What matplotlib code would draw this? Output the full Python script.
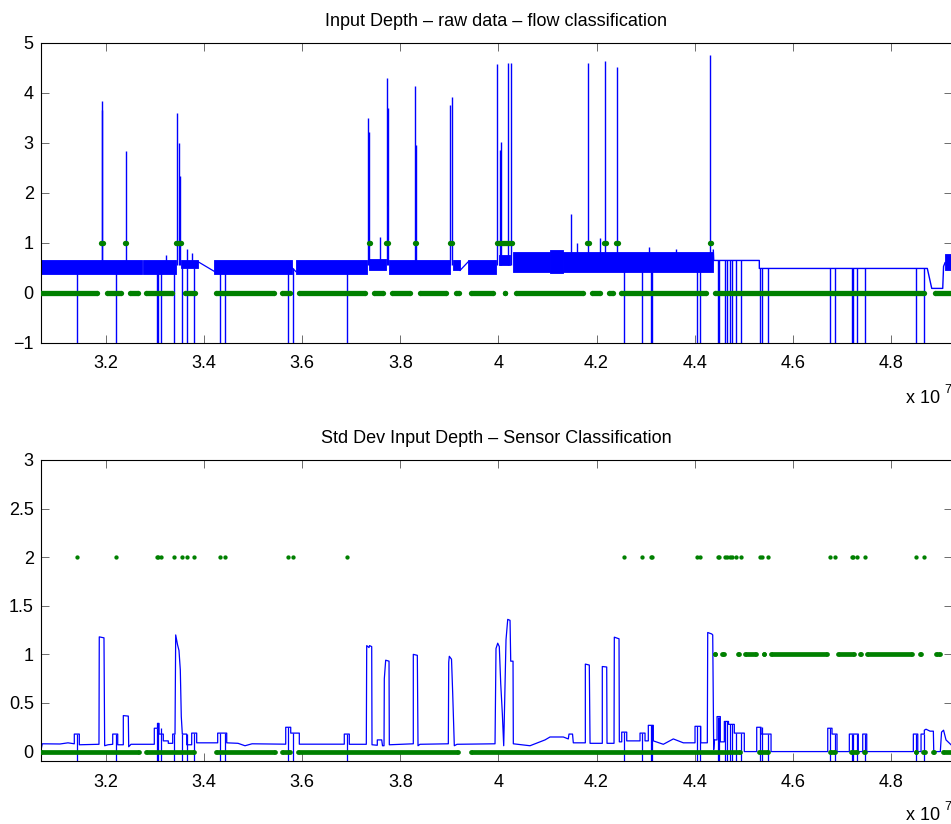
import numpy as np
import matplotlib
matplotlib.use('Agg')
import matplotlib.pyplot as plt
from matplotlib.ticker import FixedLocator, FixedFormatter

plt.rcParams['font.family'] = ['Liberation Sans', 'DejaVu Sans']
plt.rcParams['font.size'] = 13

E7 = 1e7
XMIN, XMAX = 3.0669, 4.9248
BLUE = (0, 0, 1)
GREEN = (0, 0.5, 0)
NAN = np.nan

# ---- top panel: raw input depth (x in units of 1e7) ----
band_x0 = [3.0669, 3.2754, 3.3523, 3.4202, 3.5874, 3.7362, 3.7770, 3.9068, 3.9386, 4.0018, 4.0298, 4.1052, 4.1323, 4.9105]
band_x1 = [3.2734, 3.3427, 3.3876, 3.5792, 3.7321, 3.7715, 3.9019, 3.9217, 3.9951, 4.0237, 4.1052, 4.1323, 4.4381, 4.9248]
band_lo = [0.37, 0.37, 0.50, 0.37, 0.37, 0.45, 0.37, 0.45, 0.37, 0.55, 0.42, 0.40, 0.42, 0.45]
band_hi = [0.65, 0.65, 0.66, 0.66, 0.66, 0.68, 0.66, 0.66, 0.65, 0.75, 0.82, 0.86, 0.82, 0.78]

spike_x = [3.1912, 3.1925, 3.2402, 3.3223, 3.3441, 3.3482, 3.3503, 3.3645, 3.3747,
           3.7342, 3.7362, 3.7586, 3.7723, 3.7749, 3.8306, 3.8320, 3.9019, 3.9048,
           3.9978, 4.0039, 4.0059, 4.0202, 4.0251, 4.1486, 4.1596, 4.1821, 4.2071,
           4.2173, 4.2412, 4.3076, 4.3615, 4.4320]
spike_top = [3.83, 3.65, 2.84, 0.76, 3.59, 2.99, 2.34, 0.87, 0.79,
             3.49, 3.22, 1.12, 4.29, 3.69, 4.13, 2.95, 3.75, 3.92,
             4.57, 2.85, 3.02, 4.60, 4.60, 1.58, 1.00, 4.60, 1.09,
             4.63, 4.52, 0.92, 0.88, 4.75]

link_x = [3.3876, 3.4202, NAN, 3.5792, 3.5874, NAN, 3.9217, 3.9386]
link_y = [0.62, 0.43, NAN, 0.50, 0.42, NAN, 0.445, 0.62]

tail_x = [4.4381, 4.4390, 4.5319, 4.5319, 4.8744, 4.8834, 4.9058, 4.9075, 4.9105]
tail_y = [0.85, 0.645, 0.645, 0.485, 0.485, 0.086, 0.086, 0.525, 0.60]

drop_x = [3.1403, 3.2198, 3.3040, 3.3066, 3.3121, 3.3386, 3.3556, 3.3645, 3.3800,
          3.4324, 3.4420, 3.5704, 3.5806, 3.6907, 4.2567, 4.2934, 4.3111, 4.3138,
          4.4055, 4.4110, 4.4471, 4.4504, 4.4626, 4.4661, 4.4722, 4.4756, 4.4838,
          4.4946, 4.5339, 4.5374, 4.5496, 4.6767, 4.6862, 4.7203, 4.7236, 4.7305,
          4.7468, 4.8508, 4.8671]

flow0_x0 = [3.0669, 3.2020, 3.2483, 3.2822, 3.3604, 3.4249, 3.5588, 3.5935, 3.7464, 3.7837,
            3.8408, 3.9129, 3.9448, 4.0135, 4.0353, 4.1908, 4.2255, 4.2506, 4.4416, 4.8895]
flow0_x1 = [3.1817, 3.2306, 3.2652, 3.3346, 3.3821, 3.5431, 3.5757, 3.7274, 3.7641, 3.8204,
            3.8926, 3.9191, 3.9890, 4.0135, 4.1725, 4.2078, 4.2330, 4.4226, 4.8683, 4.9248]
flow1_x0 = [3.1892, 3.2387, 3.3427, 3.7362, 3.7715, 3.8300, 3.9019, 3.9971, 4.1806, 4.2153, 4.2391, 4.4308]
flow1_x1 = [3.1939, 3.2414, 3.3523, 3.7388, 3.7749, 3.8326, 3.9060, 4.0277, 4.1840, 4.2188, 4.2432, 4.4340]

# ---- bottom panel: std dev of input depth ----
std_x = [3.0669, 3.0701, 3.1062, 3.1225, 3.1354, 3.1354, 3.1456, 3.1456, 3.1857, 3.1863,
         3.1959, 3.1973, 3.2041, 3.2137, 3.2137, 3.2239, 3.2239, 3.2353, 3.2353, 3.2455,
         3.2463, 3.2510, 3.2985, 3.2985, 3.3050, 3.3050, 3.3081, 3.3081, 3.3168, 3.3168,
         3.3270, 3.3270, 3.3360, 3.3360, 3.3407, 3.3421, 3.3458, 3.3488, 3.3515, 3.3535,
         3.3556, 3.3645, 3.3645, 3.3747, 3.3747, 3.3849, 3.3849, 3.4277, 3.4277, 3.4461,
         3.4461, 3.4691, 3.4834, 3.4977, 3.5664, 3.5664, 3.5766, 3.5766, 3.5941, 3.5941,
         3.6858, 3.6858, 3.6960, 3.6960, 3.7307, 3.7315, 3.7362, 3.7372, 3.7417, 3.7423,
         3.7531, 3.7531, 3.7621, 3.7637, 3.7668, 3.7674, 3.7702, 3.7770, 3.7776, 3.8265,
         3.8265, 3.8347, 3.8361, 3.8402, 3.8979, 3.8987, 3.8999, 3.9044, 3.9068, 3.9101,
         3.9156, 3.9931, 3.9951, 3.9986, 4.0018, 4.0047, 4.0080, 4.0108, 4.0155, 4.0190,
         4.0237, 4.0251, 4.0298, 4.0304, 4.0644, 4.0950, 4.1052, 4.1323, 4.1425, 4.1439,
         4.1511, 4.1527, 4.1772, 4.1772, 4.1853, 4.1868, 4.2118, 4.2118, 4.2208, 4.2214,
         4.2357, 4.2363, 4.2459, 4.2465, 4.2514, 4.2514, 4.2616, 4.2616, 4.2887, 4.2887,
         4.2989, 4.2989, 4.3056, 4.3056, 4.3158, 4.3158, 4.3362, 4.3566, 4.3770, 4.4008,
         4.4008, 4.4124, 4.4124, 4.4259, 4.4267, 4.4349, 4.4369, 4.4389, 4.4402, 4.4457,
         4.4457, 4.4524, 4.4524, 4.4606, 4.4606, 4.4691, 4.4691, 4.4809, 4.4809, 4.5013,
         4.5013, 4.5266, 4.5266, 4.5354, 4.5354, 4.5558, 4.5558, 4.6714, 4.6714, 4.6801,
         4.6801, 4.6903, 4.6903, 4.7154, 4.7154, 4.7337, 4.7337, 4.7427, 4.7427, 4.7509,
         4.7509, 4.8459, 4.8459, 4.8549, 4.8549, 4.8616, 4.8616, 4.8683, 4.8683, 4.8718,
         4.8799, 4.8867, 4.8875, 4.9009, 4.9034, 4.9075, 4.9125, 4.9248]
std_y = [0.00, 0.08, 0.078, 0.09, 0.08, 0.18, 0.18, 0.07, 0.075, 1.18,
         1.17, 0.06, 0.07, 0.075, 0.18, 0.18, 0.07, 0.07, 0.37, 0.365,
         0.05, 0.075, 0.075, 0.24, 0.24, 0.29, 0.29, 0.18, 0.18, 0.11,
         0.11, 0.085, 0.085, 0.18, 0.18, 1.20, 1.10, 1.04, 0.84, 0.36,
         0.18, 0.18, 0.07, 0.07, 0.19, 0.19, 0.09, 0.09, 0.19, 0.19,
         0.09, 0.085, 0.06, 0.08, 0.076, 0.25, 0.25, 0.19, 0.19, 0.076,
         0.076, 0.18, 0.18, 0.075, 0.075, 1.09, 1.07, 1.09, 1.08, 0.07,
         0.065, 0.12, 0.12, 0.06, 0.06, 0.75, 0.94, 0.93, 0.07, 0.08,
         1.00, 0.99, 0.06, 0.075, 0.08, 0.92, 0.98, 0.95, 0.60, 0.06,
         0.075, 0.08, 1.06, 1.115, 1.08, 0.70, 0.39, 0.06, 1.15, 1.36,
         1.35, 0.93, 0.93, 0.08, 0.06, 0.12, 0.15, 0.15, 0.13, 0.18,
         0.18, 0.09, 0.09, 0.90, 0.89, 0.085, 0.085, 0.875, 0.87, 0.085,
         0.085, 1.177, 1.16, 0.10, 0.10, 0.20, 0.20, 0.11, 0.11, 0.19,
         0.19, 0.11, 0.11, 0.27, 0.27, 0.11, 0.075, 0.13, 0.09, 0.09,
         0.26, 0.26, 0.09, 0.09, 1.225, 1.21, 1.20, 0.02, 0.12, 0.12,
         0.36, 0.36, 0.10, 0.10, 0.31, 0.31, 0.28, 0.28, 0.19, 0.19,
         0.00, 0.00, 0.25, 0.25, 0.18, 0.18, 0.00, 0.00, 0.24, 0.24,
         0.18, 0.18, 0.00, 0.00, 0.18, 0.18, 0.00, 0.00, 0.18, 0.18,
         0.00, 0.00, 0.18, 0.18, 0.00, 0.00, 0.18, 0.18, 0.22, 0.23,
         0.21, 0.21, 0.00, 0.00, 0.20, 0.22, 0.12, 0.06]

std_drop_top = [0.18, 0.18, 0.24, 0.29, 0.24, 0.18, 0.18, 0.18, 0.19,
                0.19, 0.19, 0.25, 0.19, 0.18, 0.20, 0.19, 0.27, 0.27,
                0.26, 0.26, 0.36, 0.36, 0.31, 0.31, 0.28, 0.28, 0.19,
                0.19, 0.25, 0.25, 0.18, 0.24, 0.18, 0.18, 0.18, 0.18,
                0.18, 0.18, 0.18]

sens0_x0 = [3.0669, 3.2822, 3.4236, 3.5582, 3.5921, 3.9435, 4.5313, 4.6761, 4.7195, 4.7454, 4.8508, 4.8663, 4.8867, 4.9070]
sens0_x1 = [3.2667, 3.3800, 3.5439, 3.5757, 3.9183, 4.4932, 4.5496, 4.6856, 4.7311, 4.7481, 4.8520, 4.8691, 4.8881, 4.9248]
sens1_x0 = [4.4416, 4.4559, 4.4879, 4.5021, 4.5421, 4.5564, 4.6924, 4.7366, 4.7515, 4.8589, 4.8915]
sens1_x1 = [4.4416, 4.4599, 4.4911, 4.5246, 4.5421, 4.6693, 4.7250, 4.7386, 4.8438, 4.8616, 4.8997]


def e7(v):
    return np.array(v, dtype=float) * E7


def draw_runs(ax, x0, x1, level, width):
    for a, b in zip(x0, x1):
        ax.plot([a * E7, b * E7], [level, level], color=GREEN, lw=width, marker='o',
                ms=width, mew=0, solid_capstyle='butt', zorder=4)


def style_axes(ax, yticks, ylabels, ylim):
    ax.set_xlim(XMIN * E7, XMAX * E7)
    ax.set_ylim(*ylim)
    xt = [3.2, 3.4, 3.6, 3.8, 4.0, 4.2, 4.4, 4.6, 4.8]
    ax.xaxis.set_major_locator(FixedLocator(e7(xt)))
    ax.xaxis.set_major_formatter(FixedFormatter(['%g' % t for t in xt]))
    ax.set_yticks(yticks)
    ax.set_yticklabels(ylabels)
    ax.tick_params(direction='in', length=6, width=0.6, top=True, right=True,
                   labelsize=13, color='#555555')
    ax.tick_params(axis='x', pad=9)
    ax.tick_params(axis='y', pad=5)
    for s in ax.spines.values():
        s.set_linewidth(0.8)


fig = plt.figure(figsize=(9.51, 8.24), dpi=100)
ax1 = fig.add_axes([0.0428, 0.5841, 0.9583, 0.3641])
ax2 = fig.add_axes([0.0428, 0.0761, 0.9583, 0.3657])

# top panel
for a, b, lo, hi in zip(band_x0, band_x1, band_lo, band_hi):
    ax1.fill_between([a * E7, b * E7], lo, hi, color=BLUE, lw=0.6, zorder=2)
ax1.vlines(e7(spike_x), 0.55, spike_top, color=BLUE, lw=1.0, zorder=2)
ax1.plot(e7(link_x), link_y, color=BLUE, lw=0.9, zorder=2)
ax1.plot(e7(tail_x), tail_y, color=BLUE, lw=1.0, zorder=2)
raw_drop_top = np.where(np.array(drop_x) < tail_x[0], 0.5,
                        np.interp(drop_x, tail_x[1:], tail_y[1:]))
ax1.vlines(e7(drop_x), -2, raw_drop_top, color=BLUE, lw=1.0, zorder=2)
draw_runs(ax1, flow0_x0, flow0_x1, 0, 3.8)
draw_runs(ax1, flow1_x0, flow1_x1, 1, 3.8)
style_axes(ax1, [-1, 0, 1, 2, 3, 4, 5], ['\u22121', '0', '1', '2', '3', '4', '5'], (-1, 5))
ax1.set_title('Input Depth \u2013 raw data \u2013 flow classification', fontsize=13, pad=12)

# bottom panel
ax2.plot(e7(std_x), std_y, color=BLUE, lw=0.9, zorder=2)
ax2.vlines(e7(drop_x), -1, std_drop_top, color=BLUE, lw=0.9, zorder=2)
draw_runs(ax2, sens0_x0, sens0_x1, 0, 3.4)
draw_runs(ax2, sens1_x0, sens1_x1, 1, 3.4)
ax2.plot(e7(drop_x), [2] * len(drop_x), 'o', color=GREEN, ms=3.1, mew=0, zorder=4)
style_axes(ax2, [0, 0.5, 1, 1.5, 2, 2.5, 3], ['0', '0.5', '1', '1.5', '2', '2.5', '3'], (-0.1, 3))
ax2.set_title('Std Dev Input Depth \u2013 Sensor Classification', fontsize=13, pad=12)

# MATLAB style exponent labels
for base in (403.0, 820.0):
    fig.text(906 / 951, 1 - base / 824, 'x 10', fontsize=13, va='baseline', ha='left')
    fig.text(944.5 / 951, 1 - (base - 10) / 824, '7', fontsize=9, va='baseline', ha='left')

fig.savefig('out.png', dpi=100)
